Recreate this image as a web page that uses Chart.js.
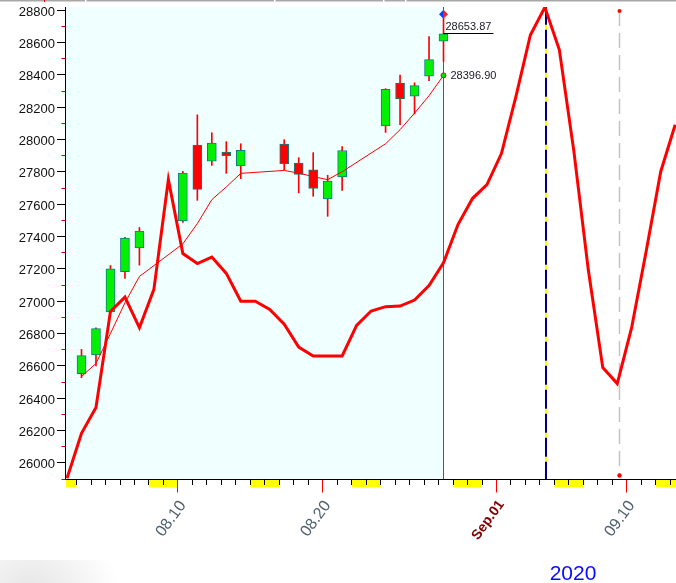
<!DOCTYPE html>
<html><head><meta charset="utf-8">
<script src="https://cdn.jsdelivr.net/npm/chart.js@4.4.1/dist/chart.umd.min.js"></script>
<style>html,body{margin:0;padding:0;background:#fff;overflow:hidden}canvas{display:block}</style>
</head><body>
<canvas id="c" width="676" height="583"></canvas>
<script>
// ---- data (x = day number counted from Aug 1 2020; Sep 1 = 32) ----
const candleDays = [3,4,5,6,7,10,11,12,13,14,17,18,19,20,21,24,25,26,27,28];
const opens  = [26552,26667,26933,27182,27330,27497,27966,27867,27923,27837,27972,27855,27812,27633,27769,28084,28349,28269,28392,28609];
const highs  = [26702,26835,27221,27395,27456,27803,28153,28042,27987,27974,27999,27888,27919,27779,27956,28315,28399,28351,28637,28752];
const lows   = [26527,26599,26930,27141,27223,27488,27624,27840,27791,27758,27814,27670,27649,27525,27686,28044,28092,28158,28365,28483];
const closes = [26663,26830,27200,27390,27434,27792,27692,27978,27900,27933,27850,27785,27697,27743,27932,28310,28252,28334,28494,28653.87];
const maValues = [26534,26615,26800,26990,27153,27355,27480,27628,27707,27791,27809,27792,27771,27752,27801,27974,28061,28163,28271,28396.90];

const cycleDays = [2,3,4,5,6,7,8,9,10,11,12,13,14,15,16,17,18,19,20,21,22,23,24,25,26,27,28,29,30,31,32,33,34,35,36,37,38,39,40,41,42,43,44];
const cycleValues = [25905,26183,26342,26937,27025,26836,27073,27752,27295,27233,27273,27172,27000,27000,26949,26857,26716,26661,26661,26661,26850,26939,26966,26970,27007,27097,27238,27474,27635,27721,27913,28266,28647,28818,28555,27930,27194,26589,26490,26840,27310,27801,28092];

const yTickValues = [26000,26200,26400,26600,26800,27000,27200,27400,27600,27800,28000,28200,28400,28600,28800];
const xLabelDays = [10,20,32,41];
const xLabels = ['08.10','08.20','Sep.01','09.10'];
const weekendStartDays = [1,8,15,22,29,36,43];
const yearLabel = '2020';

const currentDay = 28;
const cycleTopDay = 35.1;
const cycleLowDay = 40.15;
const lowMarkTop = 28795, lowMarkBottom = 25922;
const diamondValue = 28775;
const closeLabel = 28653.87;
const maLabel = 28396.90;

const xMin = 1.8605, xMax = 44.056, yMin = 25900, yMax = 28820;

// ---- decorations drawn through the scales ----
const deco = {
  id: 'deco',
  beforeDraw(chart) {
    const {ctx, chartArea: a, scales: {x}} = chart;
    ctx.save();
    ctx.fillStyle = '#ffffff';
    ctx.fillRect(0, 0, chart.width, chart.height);
    ctx.fillStyle = '#f0ffff';
    const xc = x.getPixelForValue(currentDay);
    ctx.fillRect(a.left + 1, a.top, xc - a.left - 1, a.bottom - a.top);
    ctx.restore();
  },
  beforeDatasetsDraw(chart) {
    const {ctx, chartArea: a, scales: {x, y}} = chart;
    ctx.save();
    // grey dashed cycle-low marker
    const xl = Math.floor(x.getPixelForValue(cycleLowDay)) + 0.5;
    const yT = y.getPixelForValue(lowMarkTop), yB = y.getPixelForValue(lowMarkBottom);
    ctx.strokeStyle = '#c4c4c4'; ctx.lineWidth = 1.5; ctx.setLineDash([15, 7]);
    ctx.beginPath(); ctx.moveTo(xl, yT); ctx.lineTo(xl, yB); ctx.stroke();
    ctx.setLineDash([]);
    ctx.fillStyle = '#ff0000';
    ctx.beginPath(); ctx.arc(xl, yT, 2, 0, Math.PI * 2); ctx.fill();
    ctx.beginPath(); ctx.arc(xl, yB, 2.2, 0, Math.PI * 2); ctx.fill();
    // navy/yellow cycle-top marker
    const xb = Math.round(x.getPixelForValue(cycleTopDay));
    ctx.lineWidth = 2; ctx.strokeStyle = '#000080';
    ctx.beginPath(); ctx.moveTo(xb, a.top); ctx.lineTo(xb, a.bottom); ctx.stroke();
    ctx.strokeStyle = '#ffff00'; ctx.setLineDash([5, 19]); ctx.lineDashOffset = 6.3;
    ctx.beginPath(); ctx.moveTo(xb, a.top); ctx.lineTo(xb, a.bottom); ctx.stroke();
    ctx.setLineDash([]);
    // teal current-day line
    const xt = Math.floor(x.getPixelForValue(currentDay)) + 0.5;
    ctx.strokeStyle = '#008080'; ctx.lineWidth = 1;
    ctx.beginPath(); ctx.moveTo(xt, a.top); ctx.lineTo(xt, a.bottom); ctx.stroke();
    ctx.restore();
  },
  afterDraw(chart) {
    const {ctx, chartArea: a, scales: {x, y}} = chart;
    ctx.save();
    // weekend boxes on the time axis
    ctx.fillStyle = '#ffff00';
    weekendStartDays.forEach(d => {
      let x1 = x.getPixelForValue(d - 0.34), x2 = x.getPixelForValue(d + 2 - 0.34);
      x1 = Math.max(x1, a.left + 1); x2 = Math.min(x2, a.right);
      if (x2 > x1) ctx.fillRect(x1, a.bottom + 1, x2 - x1, 7.5);
    });
    // day ticks
    ctx.lineWidth = 1;
    for (let d = 2; d <= 44; d++) {
      const px = Math.floor(x.getPixelForValue(d - 0.34)) + 0.5;
      if (px < a.left || px > a.right) continue;
      const major = xLabelDays.includes(d);
      ctx.strokeStyle = major ? '#ff0000' : '#000000';
      ctx.beginPath(); ctx.moveTo(px, a.bottom + 1); ctx.lineTo(px, a.bottom + (major ? 13.5 : 6)); ctx.stroke();
    }
    // value ticks
    for (let v = yMin; v <= 28800; v += 100) {
      const py = Math.floor(y.getPixelForValue(v)) + 0.5;
      const major = yTickValues.includes(v);
      ctx.strokeStyle = major ? '#000000' : '#d00000';
      ctx.beginPath(); ctx.moveTo(a.left - (major ? 8 : 3.5), py); ctx.lineTo(a.left, py); ctx.stroke();
    }
    // price annotations
    const xc = x.getPixelForValue(currentDay);
    const yc = Math.floor(y.getPixelForValue(closeLabel)) + 0.5;
    ctx.strokeStyle = '#000000';
    ctx.beginPath(); ctx.moveTo(xc, yc); ctx.lineTo(xc + 50, yc); ctx.stroke();
    ctx.font = '11px "Liberation Sans", Arial, sans-serif';
    ctx.fillStyle = '#1a1a2a'; ctx.textBaseline = 'alphabetic'; ctx.textAlign = 'left';
    ctx.fillText(closeLabel.toFixed(2), xc + 2, yc - 4);
    const ym = y.getPixelForValue(maLabel);
    ctx.textBaseline = 'middle';
    ctx.fillText(maLabel.toFixed(2), xc + 7, ym + 0.5);
    ctx.fillStyle = '#00e000'; ctx.strokeStyle = '#ff0000'; ctx.lineWidth = 1;
    ctx.beginPath(); ctx.arc(xc, ym, 2.5, 0, Math.PI * 2); ctx.fill(); ctx.stroke();
    // diamond marker
    const yd = y.getPixelForValue(diamondValue);
    ctx.fillStyle = '#1040ff';
    ctx.beginPath(); ctx.moveTo(xc, yd - 4.5); ctx.lineTo(xc - 4.5, yd); ctx.lineTo(xc, yd + 4.5); ctx.closePath(); ctx.fill();
    ctx.fillStyle = '#ff2020';
    ctx.beginPath(); ctx.moveTo(xc, yd - 4.5); ctx.lineTo(xc + 4.5, yd); ctx.lineTo(xc, yd + 4.5); ctx.closePath(); ctx.fill();
    // year label
    ctx.font = '21px "Liberation Sans", Arial, sans-serif';
    ctx.fillStyle = '#0a0aff'; ctx.textAlign = 'center'; ctx.textBaseline = 'alphabetic';
    ctx.fillText(yearLabel, 573, 580);
    // window top rule
    ctx.fillStyle = '#a8a8a8'; ctx.fillRect(0, 0, chart.width, 1.5);
    ctx.fillStyle = '#ffffff';
    [85, 274, 383, 405].forEach(g => ctx.fillRect(g, 0, 1.5, 2));
    ctx.fillStyle = '#ff0000'; ctx.fillRect(44, 0, 1, 2);
    // soft shadow bottom-left
    const g = ctx.createRadialGradient(30, 600, 5, 30, 600, 90);
    g.addColorStop(0, 'rgba(0,0,0,0.10)'); g.addColorStop(1, 'rgba(0,0,0,0)');
    ctx.fillStyle = g; ctx.fillRect(0, 560, 130, 23);
    ctx.restore();
  }
};

const upColor = '#00f000', downColor = '#ff0000';

new Chart(document.getElementById('c'), {
  type: 'line',
  data: {
    datasets: [
      { type: 'line', data: cycleDays.map((d, i) => ({x: d, y: cycleValues[i]})),
        borderColor: '#ff0000', borderWidth: 3, pointRadius: 0, tension: 0, fill: false },
      { type: 'line', data: candleDays.map((d, i) => ({x: d, y: maValues[i]})),
        borderColor: '#ff0000', borderWidth: 1, pointRadius: 0, tension: 0, fill: false },
      { type: 'bar', grouped: false, barThickness: 9, borderWidth: 1, borderColor: '#0a7f80', borderSkipped: false,
        data: candleDays.map((d, i) => ({x: d, y: [opens[i], closes[i]]})),
        backgroundColor: candleDays.map((d, i) => closes[i] >= opens[i] ? upColor : downColor) },
      { type: 'bar', grouped: false, barThickness: 1, borderWidth: 0,
        data: candleDays.map((d, i) => ({x: d, y: [lows[i], highs[i]]})),
        backgroundColor: '#ff0000' }
    ]
  },
  options: {
    responsive: false, animation: false, events: [],
    layout: { padding: { top: 7, left: 0, right: 0, bottom: 0 } },
    plugins: { legend: { display: false }, tooltip: { enabled: false } },
    scales: {
      x: {
        type: 'linear', min: xMin, max: xMax, offset: false,
        grid: { display: false, drawTicks: false, tickLength: 0 },
        border: { display: true, color: '#000000', width: 1 },
        afterBuildTicks: s => { s.ticks = xLabelDays.map(v => ({ value: v })); },
        afterFit: s => { s.height = 104; s.paddingLeft = 0; s.paddingRight = 0; },
        ticks: {
          autoSkip: false, minRotation: 54, maxRotation: 54, padding: 18,
          callback: (v, i) => xLabels[i],
          color: c => c.index === 2 ? '#800000' : '#506070',
          font: c => c.index === 2 ? { family: '"Liberation Sans", Arial, sans-serif', size: 14, weight: 'bold' }
                                    : { family: '"Liberation Sans", Arial, sans-serif', size: 16 }
        }
      },
      y: {
        type: 'linear', min: yMin, max: yMax,
        grid: { display: false, drawTicks: false, tickLength: 0 },
        border: { display: true, color: '#000000', width: 1 },
        afterBuildTicks: s => { s.ticks = yTickValues.map(v => ({ value: v })); },
        afterFit: s => { s.width = 65; s.paddingTop = 0; s.paddingBottom = 0; },
        ticks: {
          padding: 10, labelOffset: 2, color: '#111111',
          font: { family: '"Liberation Sans", Arial, sans-serif', size: 13 },
          callback: v => String(v)
        }
      }
    }
  },
  plugins: [deco]
});
</script>
</body></html>
